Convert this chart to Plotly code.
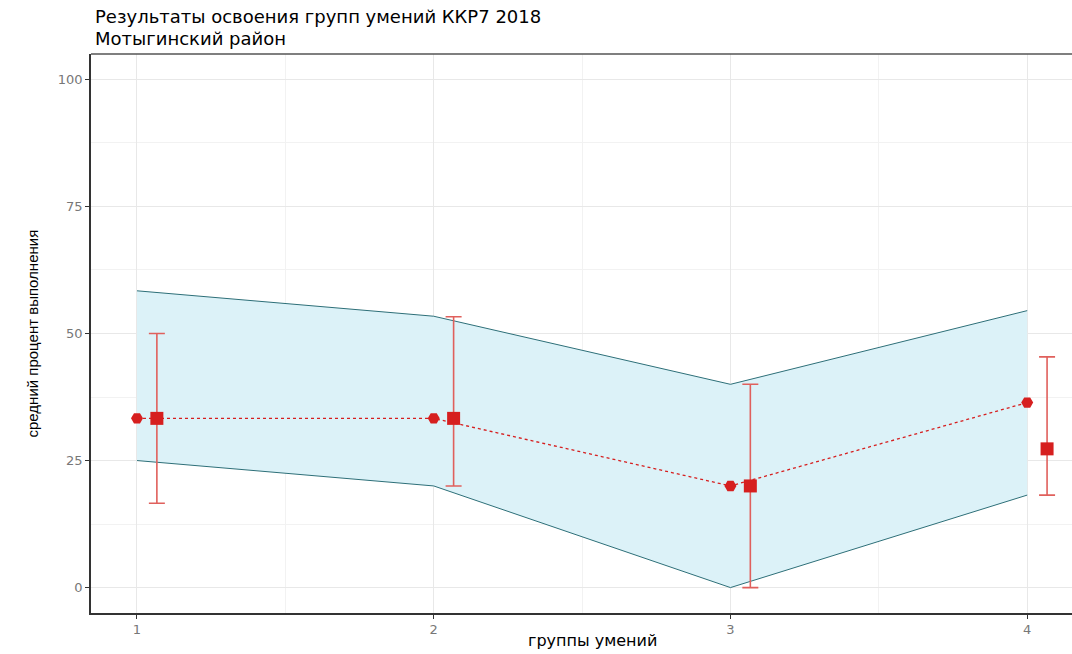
import plotly.graph_objects as go

# skill groups
groups = [1, 2, 3, 4]
# band of school results (min / max)
band_low = [25.0, 20.0, 0.0, 18.2]
band_high = [58.4, 53.4, 40.0, 54.5]
# district values (circles, joined by dotted line)
district = [33.3, 33.3, 20.0, 36.4]
# mean with spread (squares + error bars)
mean_vals = [33.3, 33.3, 20.0, 27.3]
err_low = [16.6, 20.0, 0.0, 18.2]
err_high = [50.0, 53.3, 40.0, 45.4]

title_lines = ["Результаты освоения групп умений ККР7 2018", "Мотыгинский район"]

offset = 0.067
mean_x = [g + offset for g in groups]

red = "#d61f1f"
bar_red = "#e0605c"
band_fill = "#dcf2f8"
band_line = "#2d6f78"
font = "Liberation Sans, Arial, sans-serif"
wide_font = "DejaVu Sans, Verdana, sans-serif"

# plot area in pixels
L, T, B, W, H = 91, 54, 41, 1072, 654
PW, PH = W - L, H - T - B

fig = go.Figure()

fig.add_trace(go.Scatter(
    x=groups, y=band_low, mode="lines",
    line=dict(color=band_line, width=1), showlegend=False, hoverinfo="skip"))
fig.add_trace(go.Scatter(
    x=groups, y=band_high, mode="lines", fill="tonexty", fillcolor=band_fill,
    line=dict(color=band_line, width=1), showlegend=False, hoverinfo="skip"))

fig.add_trace(go.Scatter(
    x=groups, y=district, mode="lines+markers",
    line=dict(color=red, width=1.3, dash="dot"),
    marker=dict(symbol="hexagon2", size=12, color=red),
    showlegend=False))

fig.add_trace(go.Scatter(
    x=mean_x, y=mean_vals, mode="markers",
    marker=dict(symbol="square", size=13, color=red),
    error_y=dict(type="data", symmetric=False,
                 array=[h - m for h, m in zip(err_high, mean_vals)],
                 arrayminus=[m - l for m, l in zip(mean_vals, err_low)],
                 color=bar_red, thickness=1.6, width=8),
    showlegend=False))

axis_common = dict(
    showgrid=True, gridcolor="#e8e8e8", gridwidth=1,
    showline=True, linecolor="#333333", linewidth=1.6,
    ticks="outside", ticklen=4, tickcolor="#333333",
    tickfont=dict(family=wide_font, size=13, color="#777777"),
    zeroline=False,
    minor=dict(showgrid=True, gridcolor="#f2f2f2", gridwidth=1),
)

fig.update_xaxes(range=[0.845, 4.151], tickvals=groups,
                 minor_tickvals=[1.5, 2.5, 3.5], **axis_common)
fig.update_yaxes(range=[-5, 105], tickvals=[0, 25, 50, 75, 100],
                 minor_tickvals=[12.5, 37.5, 62.5, 87.5], **axis_common)

# top border of the panel
fig.add_shape(type="line", xref="paper", yref="paper", x0=0, x1=1, y0=1, y1=1,
              line=dict(color="#555555", width=1.5))

# two-line title
for text, cy in zip(title_lines, [17, 38]):
    fig.add_annotation(text=text, xref="paper", yref="paper",
                       x=(93 - L) / PW, y=1 + (T - cy) / PH,
                       xanchor="left", yanchor="middle", showarrow=False,
                       font=dict(family=wide_font, size=18, color="black"))

fig.add_annotation(text="средний процент выполнения", xref="paper", yref="paper",
                   x=(32 - L) / PW, y=0.5, textangle=-90, showarrow=False,
                   xanchor="center", yanchor="middle",
                   font=dict(family=font, size=15, color="black"))
fig.add_annotation(text="группы умений", xref="paper", yref="paper",
                   x=(592 - L) / PW, y=-(640 - (H - B)) / PH, showarrow=False,
                   xanchor="center", yanchor="middle",
                   font=dict(family=wide_font, size=16, color="black"))

fig.update_layout(
    width=W, height=H,
    margin=dict(l=L, r=0, t=T, b=B),
    paper_bgcolor="white", plot_bgcolor="white",
)

fig.write_html("out.html")
